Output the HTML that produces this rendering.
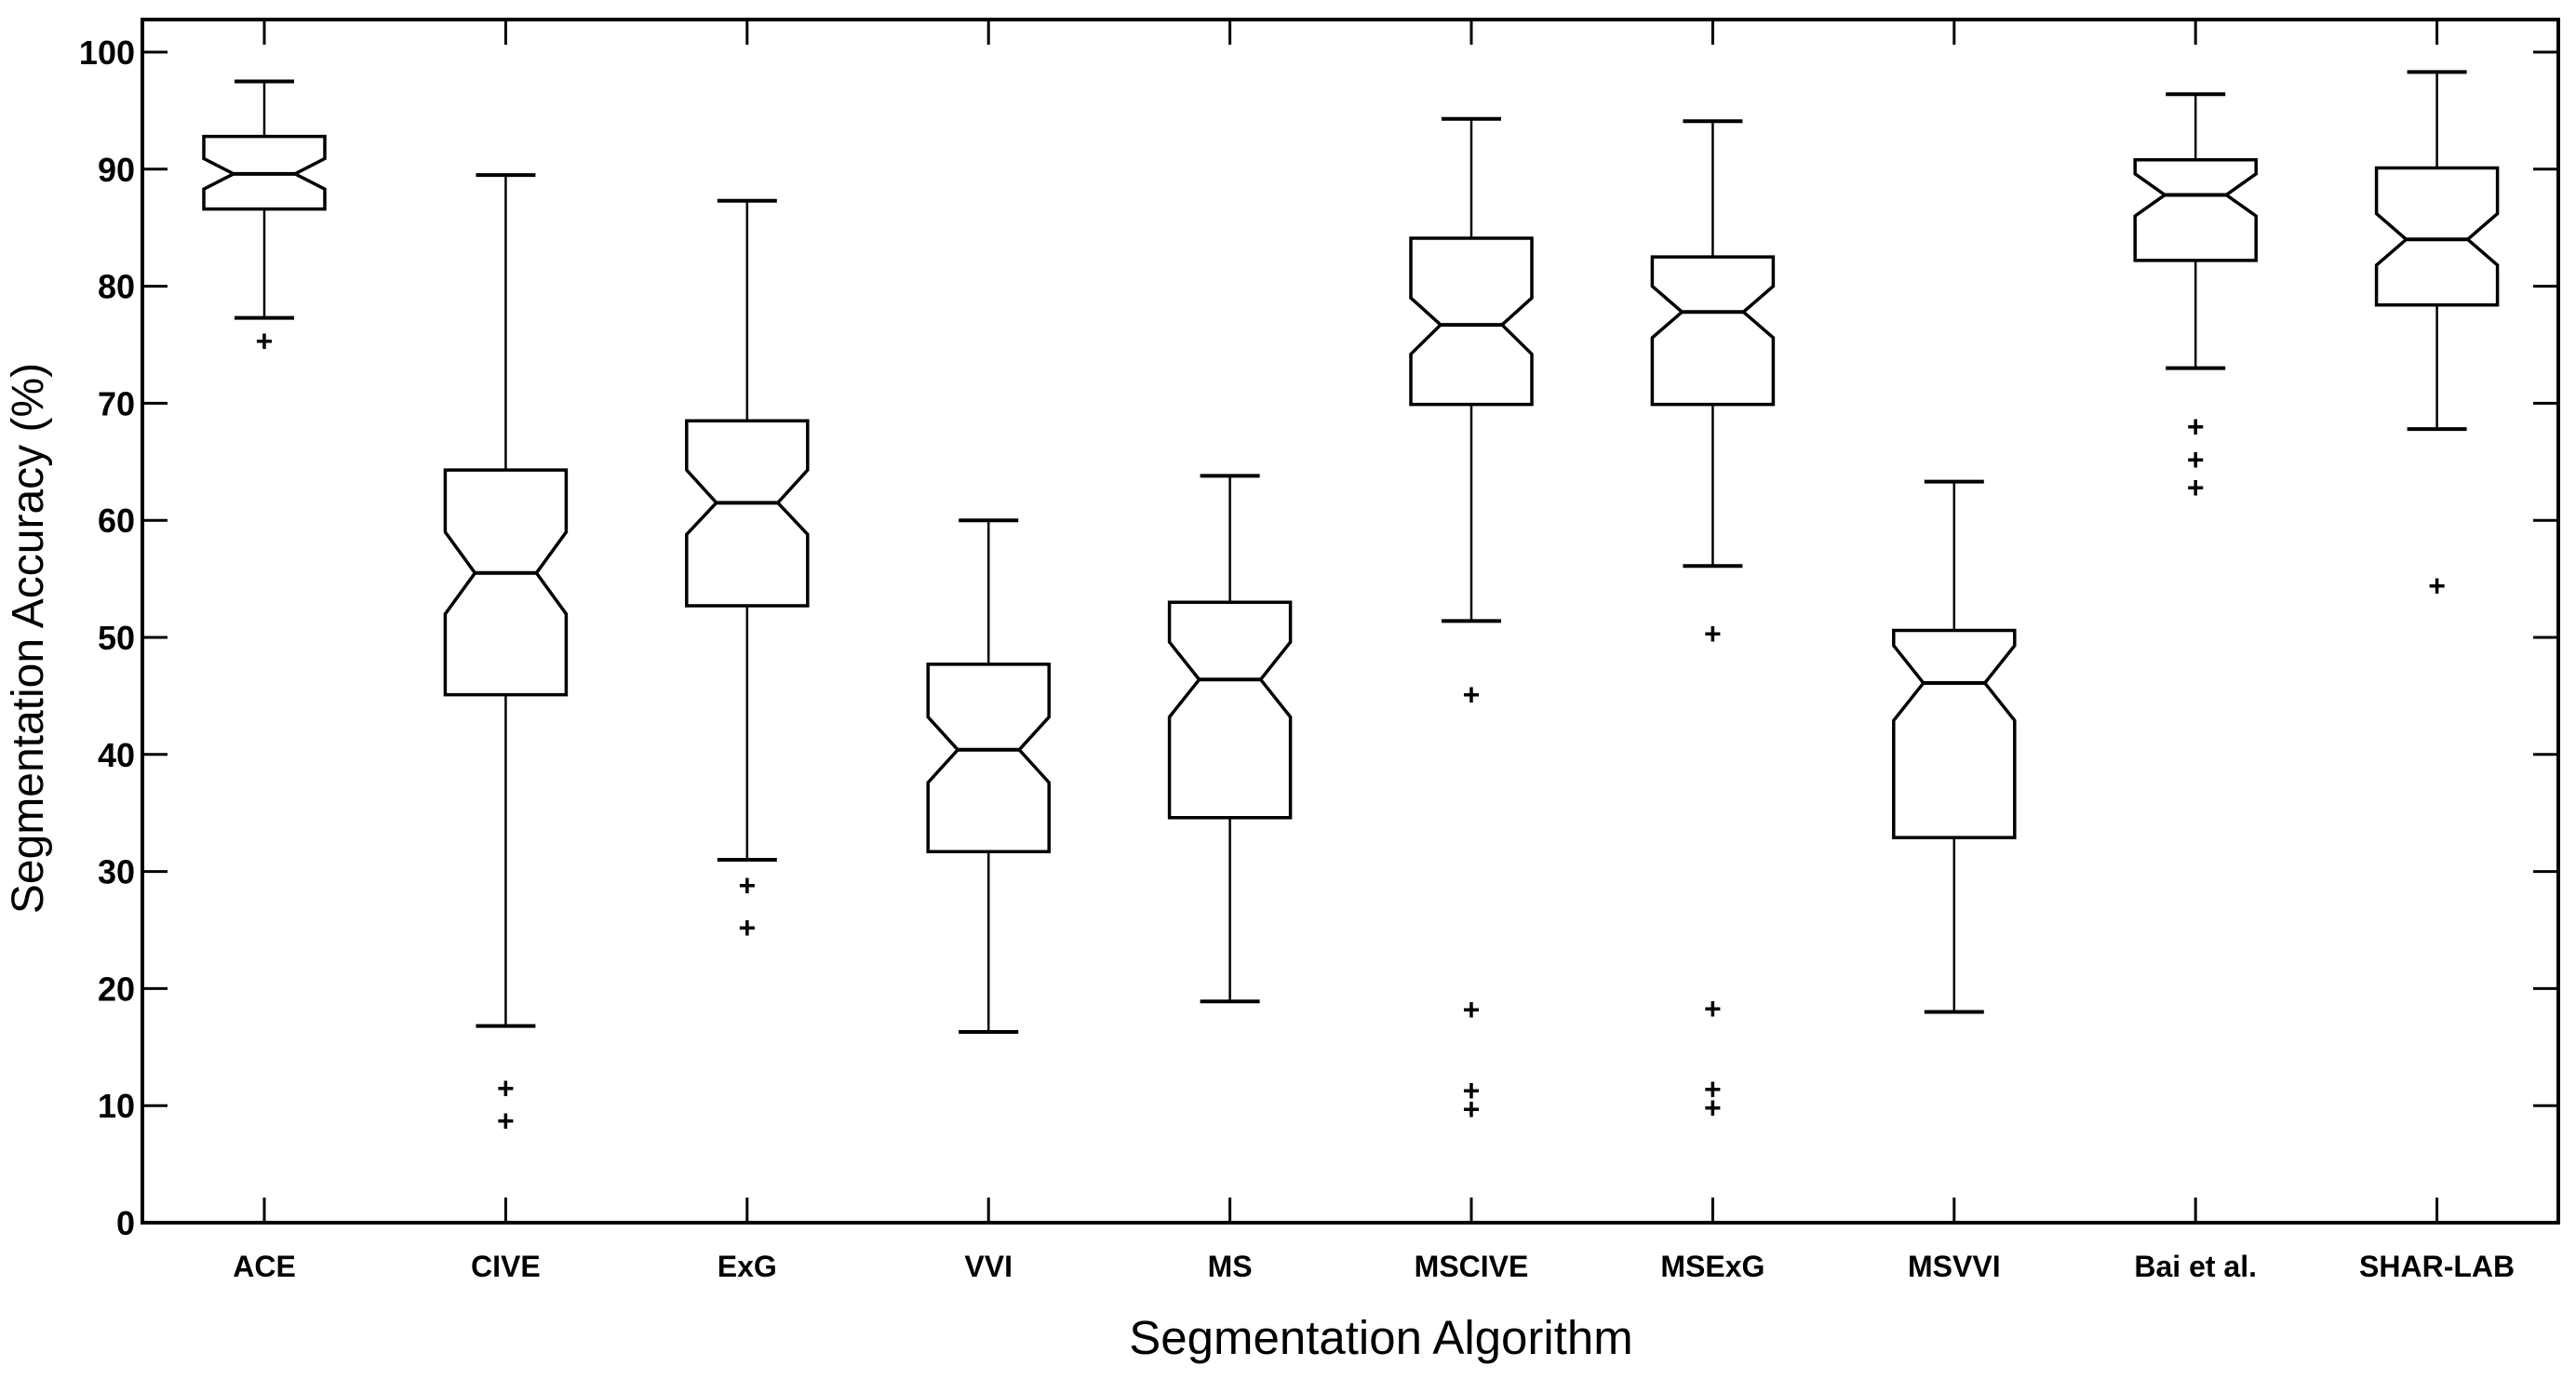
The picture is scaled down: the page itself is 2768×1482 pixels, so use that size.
<!DOCTYPE html>
<html><head><meta charset="utf-8"><style>
html,body{margin:0;padding:0;background:#fff;}
svg{display:block;}
text{font-family:"Liberation Sans",Arial,sans-serif;fill:#000;}
</style></head><body>
<svg id="chart" width="2768" height="1482" viewBox="0 0 2768 1482" xmlns="http://www.w3.org/2000/svg">
<g id="plot"></g>
<text x="46" y="686" font-size="48" text-anchor="middle" transform="rotate(-90 46 686)">Segmentation Accuracy (%)</text>
<text x="1484" y="1455" font-size="51" text-anchor="middle">Segmentation Algorithm</text>
</svg>
<script>
const categories = ["ACE","CIVE","ExG","VVI","MS","MSCIVE","MSExG","MSVVI","Bai et al.","SHAR-LAB"];
const whiskerHigh = [97.5, 89.5, 87.3, 60.0, 63.8, 94.3, 94.1, 63.3, 96.4, 98.3];
const q3Values    = [92.8, 64.3, 68.5, 47.7, 53.0, 84.1, 82.5, 50.6, 90.8, 90.1];
const notchHigh   = [90.9, 59.0, 64.3, 43.2, 49.6, 79.0, 80.0, 49.3, 89.6, 86.2];
const medians     = [89.6, 55.5, 61.5, 40.4, 46.4, 76.7, 77.8, 46.1, 87.8, 84.0];
const notchLow    = [88.3, 52.0, 58.8, 37.6, 43.2, 74.2, 75.6, 42.9, 86.0, 81.8];
const q1Values    = [86.6, 45.1, 52.7, 31.7, 34.6, 69.9, 69.9, 32.9, 82.2, 78.4];
const whiskerLow  = [77.3, 16.8, 31.0, 16.3, 18.9, 51.4, 56.1, 18.0, 73.0, 67.8];
const outliers    = [[75.3],[11.5,8.7],[28.8,25.2],[],[],[45.1,18.2,11.3,9.7],[50.3,18.3,11.4,9.8],[],[68.0,65.2,62.8],[54.4]];
const yTicks = [0,10,20,30,40,50,60,70,80,90,100];

const L=153,R=2749,T=21,B=1314;
const yScale = v => B - v*(B-56)/100;
const xScale = i => 284 + i*259.4;
const NS="http://www.w3.org/2000/svg";
const g=document.getElementById('plot');
function mk(tag,attrs,parent){const e=document.createElementNS(NS,tag);for(const k in attrs)e.setAttribute(k,attrs[k]);(parent||g).appendChild(e);return e;}

const frame=mk('rect',{x:L,y:T,width:R-L,height:B-T,fill:'none',stroke:'#000','stroke-width':4});



yTicks.forEach(v=>{
  const y=yScale(v);
  const t1=mk('line',{x1:L,x2:L+27,y1:y,y2:y,stroke:'#000','stroke-width':3});
  
  
  const t2=mk('line',{x1:R-27,x2:R,y1:y,y2:y,stroke:'#000','stroke-width':3});
  
  
  const lb=mk('text',{x:L-8,y:y+13,'font-size':36,'font-weight':'bold','text-anchor':'end'});
  lb.textContent=v;
  
  
});

categories.forEach((c,i)=>{
  const x=xScale(i);
  const t1=mk('line',{x1:x,x2:x,y1:B,y2:B-27,stroke:'#000','stroke-width':3});
  
  
  const t2=mk('line',{x1:x,x2:x,y1:T,y2:T+27,stroke:'#000','stroke-width':3});
  
  
  const lb=mk('text',{x:x,y:B+58,'font-size':32,'font-weight':'bold','text-anchor':'middle'});
  lb.textContent=c;
  
  

  const bg=mk('g',{});
  
  
  const hw=65, nd=32, cw=32;
  const yq3=yScale(q3Values[i]), yq1=yScale(q1Values[i]), ym=yScale(medians[i]);
  const ynh=yScale(notchHigh[i]), ynl=yScale(notchLow[i]);
  const wh=mk('line',{x1:x,x2:x,y1:yScale(whiskerHigh[i]),y2:yq3,stroke:'#000','stroke-width':2.5},bg);
  
  
  const wl=mk('line',{x1:x,x2:x,y1:yq1,y2:yScale(whiskerLow[i]),stroke:'#000','stroke-width':2.5},bg);
  
  
  const ch=mk('line',{x1:x-cw,x2:x+cw,y1:yScale(whiskerHigh[i]),y2:yScale(whiskerHigh[i]),stroke:'#000','stroke-width':4},bg);
  
  
  const cl=mk('line',{x1:x-cw,x2:x+cw,y1:yScale(whiskerLow[i]),y2:yScale(whiskerLow[i]),stroke:'#000','stroke-width':4},bg);
  
  
  const pts=[[x-hw,yq3],[x+hw,yq3],[x+hw,ynh],[x+hw-nd,ym],[x+hw,ynl],[x+hw,yq1],[x-hw,yq1],[x-hw,ynl],[x-hw+nd,ym],[x-hw,ynh]];
  const box=mk('polygon',{points:pts.map(p=>p.join(',')).join(' '),fill:'none',stroke:'#000','stroke-width':3.5,'stroke-linejoin':'miter'},bg);
  
  
  const md=mk('line',{x1:x-hw+nd,x2:x+hw-nd,y1:ym,y2:ym,stroke:'#000','stroke-width':4},bg);
  
  
  outliers[i].forEach(v=>{
    const o=mk('text',{x:x,y:yScale(v)+11,'font-size':32,'text-anchor':'middle','font-weight':'bold'},bg);
    o.textContent='+';
    
    
  });
});
</script>
</body></html>
